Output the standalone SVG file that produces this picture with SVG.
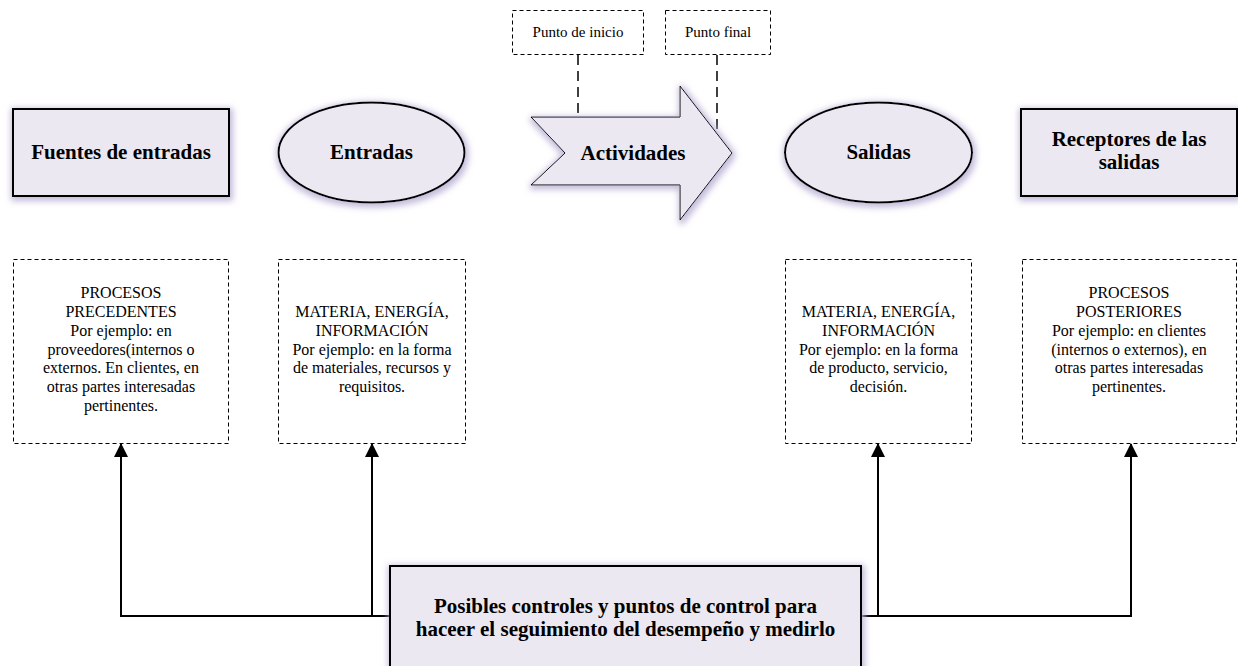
<svg xmlns="http://www.w3.org/2000/svg" width="1238" height="666" viewBox="0 0 1238 666">
<defs>
<filter id="glow" x="-20%" y="-30%" width="140%" height="160%">
<feMorphology in="SourceAlpha" operator="dilate" radius="2" result="d"/>
<feGaussianBlur in="d" stdDeviation="3" result="b"/>
<feOffset in="b" dx="1" dy="2" result="o"/>
<feFlood flood-color="#bdb4d6" flood-opacity="0.9"/>
<feComposite in2="o" operator="in" result="s"/>
<feMerge><feMergeNode in="s"/><feMergeNode in="SourceGraphic"/></feMerge>
</filter>
<marker id="ah" markerWidth="14" markerHeight="16" refX="13" refY="7" orient="auto" markerUnits="userSpaceOnUse">
<path d="M0,0 L14,7 L0,14 Z" fill="#000"/>
</marker>
</defs>
<style>
.shape{fill:#ebe8f1;stroke:#000;stroke-width:2}
.dbox{fill:#fff;stroke:#000;stroke-width:1;stroke-dasharray:4,3}
.hd{font-family:"Liberation Serif","Times New Roman",serif;font-weight:bold;font-size:21px;fill:#000;text-anchor:middle}
.tx{font-family:"Liberation Serif","Times New Roman",serif;font-size:16px;fill:#000;text-anchor:middle}
.sm{font-family:"Liberation Serif","Times New Roman",serif;font-size:15px;fill:#000;text-anchor:middle}
.conn{fill:none;stroke:#000;stroke-width:2}
.dl{fill:none;stroke:#000;stroke-width:1.5;stroke-dasharray:10,6}
</style>

<g id="connectors">
<path class="conn" d="M390,616 H121 V444" marker-end="url(#ah)"/>
<path class="conn" d="M372,616 V444" marker-end="url(#ah)"/>
<path class="conn" d="M861,616 H1131 V444" marker-end="url(#ah)"/>
<path class="conn" d="M878,616 V444" marker-end="url(#ah)"/>
<path class="dl" d="M578,55 V117"/>
<path d="M564,118 H577" stroke="#555" stroke-width="1.5"/>
<path class="dl" d="M717,55 V131"/>
</g>

<g id="fuentes">
<rect class="shape" x="13" y="109" width="216" height="87" filter="url(#glow)"/>
<text class="hd" x="121" y="159">Fuentes de entradas</text>
</g>

<g id="entradas">
<ellipse class="shape" cx="371.5" cy="152.5" rx="93" ry="50" filter="url(#glow)"/>
<text class="hd" x="371.5" y="159">Entradas</text>
</g>

<g id="actividades">
<path d="M531,117 L680,117 L680,86 L732,153 L680,220 L680,185 L531,185 L565,153 Z" fill="#ebe8f1" stroke="#000" stroke-width="1" filter="url(#glow)"/>
<text class="hd" x="633" y="160">Actividades</text>
</g>

<g id="salidas">
<ellipse class="shape" cx="878.5" cy="152.5" rx="93.5" ry="50" filter="url(#glow)"/>
<text class="hd" x="878.5" y="159">Salidas</text>
</g>

<g id="receptores">
<rect class="shape" x="1021" y="109" width="216" height="87" filter="url(#glow)"/>
<text class="hd" x="1129" y="146">Receptores de las</text>
<text class="hd" x="1129" y="169">salidas</text>
</g>

<g id="punto-inicio">
<rect class="dbox" x="512.5" y="10.5" width="131" height="44"/>
<text class="sm" x="578" y="37">Punto de inicio</text>
</g>

<g id="punto-final">
<rect class="dbox" x="665.5" y="10.5" width="105" height="44"/>
<text class="sm" x="718" y="37">Punto final</text>
</g>

<g id="procesos-precedentes">
<rect class="dbox" x="13.5" y="259.5" width="215" height="184"/>
<text class="tx" x="121" y="298">PROCESOS</text>
<text class="tx" x="121" y="317">PRECEDENTES</text>
<text class="tx" x="121" y="336">Por ejemplo: en</text>
<text class="tx" x="121" y="355">proveedores(internos o</text>
<text class="tx" x="121" y="373">externos. En clientes, en</text>
<text class="tx" x="121" y="392">otras partes interesadas</text>
<text class="tx" x="121" y="411">pertinentes.</text>
</g>

<g id="materia-entradas">
<rect class="dbox" x="278.5" y="259.5" width="187" height="184"/>
<text class="tx" x="372" y="317">MATERIA, ENERGÍA,</text>
<text class="tx" x="372" y="336">INFORMACIÓN</text>
<text class="tx" x="372" y="355">Por ejemplo: en la forma</text>
<text class="tx" x="372" y="373">de materiales, recursos y</text>
<text class="tx" x="372" y="392">requisitos.</text>
</g>

<g id="materia-salidas">
<rect class="dbox" x="785.5" y="259.5" width="186" height="184"/>
<text class="tx" x="878.5" y="317">MATERIA, ENERGÍA,</text>
<text class="tx" x="878.5" y="336">INFORMACIÓN</text>
<text class="tx" x="878.5" y="355">Por ejemplo: en la forma</text>
<text class="tx" x="878.5" y="373">de producto, servicio,</text>
<text class="tx" x="878.5" y="392">decisión.</text>
</g>

<g id="procesos-posteriores">
<rect class="dbox" x="1022.5" y="259.5" width="214" height="184"/>
<text class="tx" x="1129" y="298">PROCESOS</text>
<text class="tx" x="1129" y="317">POSTERIORES</text>
<text class="tx" x="1129" y="336">Por ejemplo: en clientes</text>
<text class="tx" x="1129" y="355">(internos o externos), en</text>
<text class="tx" x="1129" y="373">otras partes interesadas</text>
<text class="tx" x="1129" y="392">pertinentes.</text>
</g>

<g id="controles">
<rect class="shape" x="390" y="566" width="471" height="110" filter="url(#glow)"/>
<text class="hd" x="625.5" y="613" font-size="20">Posibles controles y puntos de control para</text>
<text class="hd" x="625.5" y="636" font-size="20">haceer el seguimiento del desempeño y medirlo</text>
</g>
</svg>
